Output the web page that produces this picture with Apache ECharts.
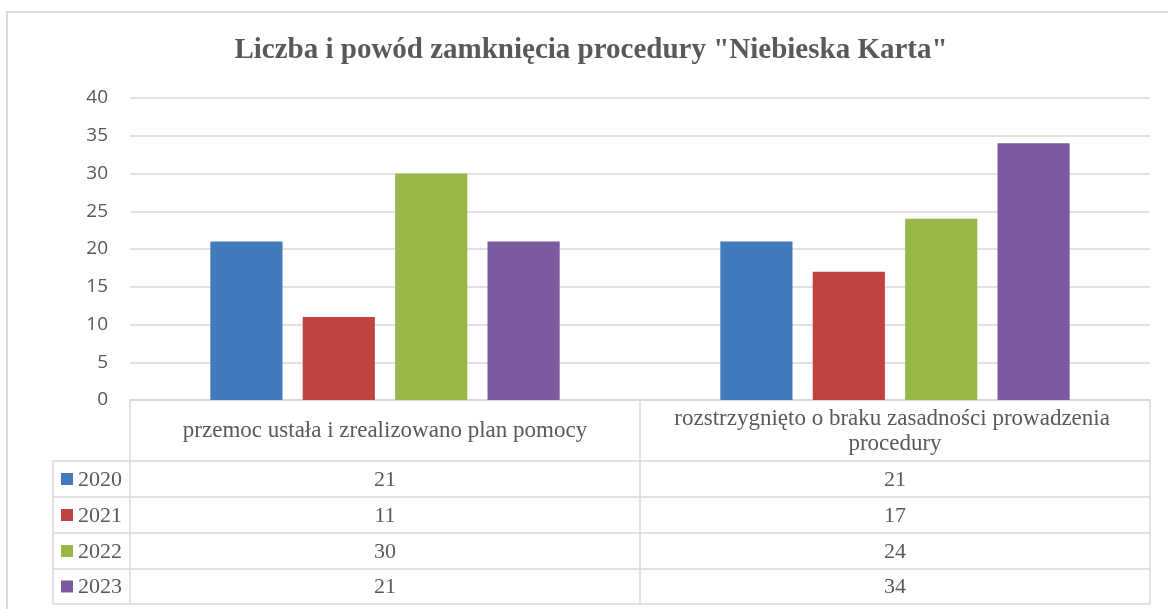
<!DOCTYPE html>
<html>
<head>
<meta charset="utf-8">
<script src="https://cdn.jsdelivr.net/npm/echarts@6/dist/echarts.min.js"></script>
<style>
html,body{margin:0;padding:0;background:#fff;}
#chart{width:1168px;height:609px;}
</style>
</head>
<body>
<div id="chart"></div>
<script>
// ---- data ----
const TITLE = 'Liczba i powód zamknięcia procedury "Niebieska Karta"';
const categories = [
  'przemoc ustała i zrealizowano plan pomocy',
  'rozstrzygnięto o braku zasadności prowadzenia procedury'
];
const seriesNames = ['2020', '2021', '2022', '2023'];
const values2020 = [21, 21];
const values2021 = [11, 17];
const values2022 = [30, 24];
const values2023 = [21, 34];
const yTicks = [0, 5, 10, 15, 20, 25, 30, 35, 40];

// ---- style / layout ----
const colors = ['#417BBE', '#BF4341', '#98B84A', '#7B5A9F'];
const allValues = [values2020, values2021, values2022, values2023];
const GRID_L = 130, GRID_R = 1150, GRID_T = 98, GRID_B = 400;
const TABLE_L = 53;
const ROW_Y = [400, 461, 497, 533, 569, 604];
const LINE = '#D9D9D9';
const TXT = '#595959';
const SERIF = '"Liberation Serif", "DejaVu Serif", serif';

const chart = echarts.init(document.getElementById('chart'), null, {renderer: 'canvas'});

const graphics = [];
// outer chart border
graphics.push({type: 'rect', shape: {x: 7, y: 12, width: 1300, height: 700},
  style: {fill: null, stroke: LINE, lineWidth: 2}, silent: true, z: -10});

// table lines
const colX = [GRID_L, (GRID_L + GRID_R) / 2, GRID_R];
function hline(x1, x2, y) {
  graphics.push({type: 'line', shape: {x1: x1, y1: y, x2: x2, y2: y},
    style: {stroke: LINE, lineWidth: 1.5}, silent: true});
}
function vline(x, y1, y2) {
  graphics.push({type: 'line', shape: {x1: x, y1: y1, x2: x, y2: y2},
    style: {stroke: LINE, lineWidth: 1.5}, silent: true});
}
hline(GRID_L, GRID_R, ROW_Y[0]);
for (let i = 1; i < ROW_Y.length; i++) hline(TABLE_L, GRID_R, ROW_Y[i]);
colX.forEach(x => vline(x, ROW_Y[0], ROW_Y[ROW_Y.length - 1]));
vline(TABLE_L, ROW_Y[1], ROW_Y[ROW_Y.length - 1]);

// table rows: legend key + year + values
seriesNames.forEach((name, i) => {
  const yc = (ROW_Y[i + 1] + ROW_Y[i + 2]) / 2;
  graphics.push({type: 'rect', shape: {x: 61, y: yc - 6, width: 12, height: 12},
    style: {fill: colors[i]}, silent: true});
  graphics.push({type: 'text', x: 78, y: yc + 1,
    style: {text: name, fill: TXT, font: '22px ' + SERIF, textAlign: 'left', textVerticalAlign: 'middle'}, silent: true});
  allValues[i].forEach((v, c) => {
    const xc = (colX[c] + colX[c + 1]) / 2;
    graphics.push({type: 'text', x: xc, y: yc + 1,
      style: {text: String(v), fill: TXT, font: '22px ' + SERIF, textAlign: 'center', textVerticalAlign: 'middle'}, silent: true});
  });
});

const option = {
  backgroundColor: '#fff',
  animation: false,
  title: {
    text: TITLE,
    left: 591,
    top: 36,
    padding: 0,
    textAlign: 'center',
    textStyle: {fontFamily: SERIF, fontWeight: 'bold', fontSize: 29, color: TXT}
  },
  grid: {left: GRID_L, right: 1168 - GRID_R, top: GRID_T, bottom: 609 - GRID_B, containLabel: false},
  xAxis: {
    type: 'category',
    data: categories,
    axisLine: {show: true, lineStyle: {color: LINE, width: 1.5}},
    axisTick: {show: false},
    axisLabel: {
      interval: 0,
      fontFamily: SERIF, fontSize: 23, color: TXT,
      width: 470, overflow: 'break', lineHeight: 25,
      margin: 31, verticalAlign: 'middle', align: 'center'
    }
  },
  yAxis: {
    type: 'value',
    min: yTicks[0], max: yTicks[yTicks.length - 1], interval: 5,
    axisLine: {show: false},
    axisTick: {show: false},
    axisLabel: {fontFamily: '"Open Sans", sans-serif', fontSize: 19, color: TXT, margin: 22},
    splitLine: {lineStyle: {color: LINE, width: 1.5}}
  },
  series: seriesNames.map((name, i) => ({
    name: name,
    type: 'bar',
    data: allValues[i],
    barGap: '28%',
    barCategoryGap: '31.5%',
    itemStyle: {color: colors[i]}
  })),
  graphic: graphics
};
chart.setOption(option);
</script>
</body>
</html>
